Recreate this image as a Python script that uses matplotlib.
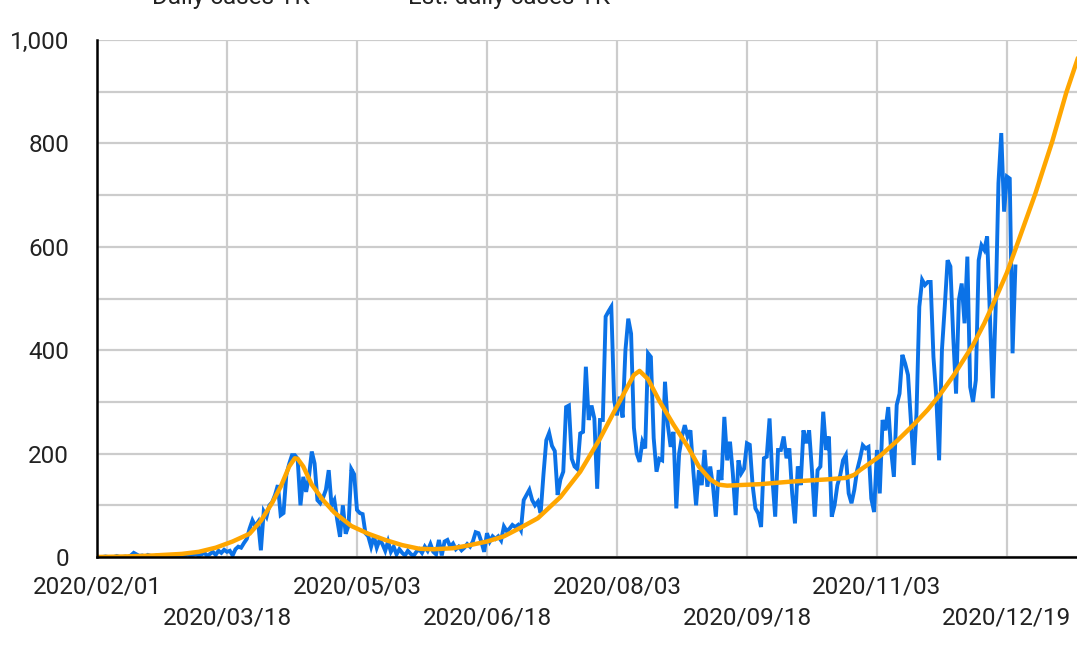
import numpy as np
import pandas as pd
import matplotlib
matplotlib.use("Agg")
import matplotlib.pyplot as plt

plt.rcParams['font.family'] = ['Roboto', 'DejaVu Sans']

START = pd.Timestamp('2020-02-01')

# reported daily cases, one value per day from 2020/02/01
daily_cases = [
    0, 0, 0, 1, 0, 0, 0, 2, 0, 0,
    1, 0, 3, 8, 5, 2, 3, 1, 4, 2,
    0, 3, 1, 2, 0, 3, 1, 2, 4, 1,
    3, 2, 5, 3, 4, 6, 3, 5, 8, 2,
    6, 10, 4, 12, 8, 14, 10, 12, 3, 15,
    20, 18, 27, 35, 55, 71, 60, 68, 13, 88,
    78, 100, 106, 120, 139, 81, 85, 159, 180, 197,
    197, 190, 100, 155, 126, 155, 204, 181, 110, 104,
    115, 130, 168, 100, 110, 72, 39, 100, 45, 60,
    170, 160, 91, 85, 83, 46, 40, 20, 40, 18,
    33, 25, 12, 30, 10, 20, 5, 15, 8, 3,
    12, 6, 2, 10, 15, 8, 20, 12, 25, 10,
    5, 33, 3, 30, 33, 20, 26, 15, 20, 13,
    18, 25, 20, 30, 48, 46, 30, 10, 46, 30,
    40, 35, 40, 32, 59, 50, 55, 62, 58, 62,
    52, 110, 120, 130, 110, 100, 107, 85, 160, 226,
    240, 215, 205, 120, 150, 165, 290, 293, 190, 175,
    170, 239, 242, 368, 265, 293, 268, 132, 265, 265,
    465, 475, 484, 303, 274, 310, 270, 400, 461, 432,
    250, 200, 184, 223, 210, 394, 387, 230, 165, 190,
    187, 339, 255, 213, 242, 94, 200, 233, 255, 233,
    245, 168, 100, 168, 139, 207, 136, 175, 136, 78,
    168, 149, 271, 187, 223, 162, 81, 187, 162, 171,
    220, 217, 139, 94, 84, 58, 191, 194, 268, 152,
    78, 207, 207, 233, 191, 210, 123, 65, 175, 139,
    245, 220, 245, 168, 78, 168, 175, 281, 207, 233,
    78, 100, 139, 158, 187, 197, 123, 104, 130, 168,
    190, 216, 210, 213, 113, 87, 207, 123, 265, 245,
    290, 207, 155, 294, 316, 391, 374, 352, 265, 178,
    278, 484, 536, 526, 532, 532, 387, 310, 187, 400,
    484, 574, 562, 426, 316, 497, 529, 452, 581, 329,
    300, 342, 574, 603, 594, 620, 465, 307, 478, 723,
    820, 668, 736, 732, 394, 562,
]

# estimated curve, read off at these day offsets from 2020/02/01
est_days = [
    0, 10, 20, 30, 36, 42, 48, 54, 58, 62,
    65, 68, 70, 71, 73, 76, 80, 84, 90, 96,
    102, 108, 114, 119, 126, 132, 138, 144, 150, 156,
    164, 171, 178, 183, 188, 190, 192, 195, 199, 204,
    209, 213, 217, 220, 223, 235, 246, 258, 265, 268,
    270, 277, 283, 289, 294, 298, 303, 310, 314, 318,
    322, 325, 332, 338, 343, 347,
]
est_cases = [
    0, 1, 3, 6, 10, 18, 30, 45, 70, 105,
    136, 175, 191, 190, 175, 140, 110, 86, 60, 45,
    33, 23, 16, 15, 17, 23, 30, 40, 57, 75,
    116, 165, 229, 281, 332, 352, 360, 344, 302, 256,
    214, 175, 150, 140, 138, 141, 146, 150, 153, 159,
    168, 195, 224, 256, 285, 312, 350, 410, 452, 500,
    550, 595, 702, 803, 898, 963,
]

tick_dates = ['2020/02/01', '2020/03/18', '2020/05/03', '2020/06/18',
              '2020/08/03', '2020/09/18', '2020/11/03', '2020/12/19']
series_names = ['Daily cases TK', 'Est. daily cases TK']

BLUE = '#0b72e7'
ORANGE = '#ffa600'
GRID = '#cccccc'
TEXT = '#222222'

x_daily = pd.date_range(START, periods=len(daily_cases), freq='D')
x_est = START + pd.to_timedelta(est_days, unit='D')

fig = plt.figure(figsize=(10.77, 6.48), dpi=100)
ax = fig.add_axes([97 / 1077, 1 - 557 / 648, 1 - 97 / 1077, (557 - 40) / 648])

ax.plot(x_daily, daily_cases, color=BLUE, lw=2.8, solid_joinstyle='miter', zorder=3)
ax.plot(x_est, est_cases, color=ORANGE, lw=3.2, zorder=4)

ax.set_xlim(START, START + pd.Timedelta(days=346.8))
ax.set_ylim(0, 1000)

ticks = pd.to_datetime(tick_dates, format='%Y/%m/%d')
ax.set_xticks(ticks[::2])
ax.set_xticklabels(tick_dates[::2])
ax.set_xticks(ticks[1::2], minor=True)
ax.set_xticklabels(tick_dates[1::2], minor=True)
ax.tick_params(axis='x', which='major', length=0, pad=13, labelsize=17.5, labelcolor=TEXT)
ax.tick_params(axis='x', which='minor', length=0, pad=36, labelsize=17.5, labelcolor=TEXT)

ax.set_yticks(range(0, 1001, 200))
ax.set_yticklabels([f'{v:,}' for v in range(0, 1001, 200)])
ax.set_yticks(range(100, 1000, 200), minor=True)
ax.tick_params(axis='y', which='both', length=0, pad=20, labelsize=17.5, labelcolor=TEXT)

ax.grid(True, which='both', color=GRID, lw=1.6, zorder=0)
ax.set_axisbelow(True)

for side in ('top', 'right'):
    ax.spines[side].set_visible(False)
for side in ('left', 'bottom'):
    ax.spines[side].set_color('#000000')
    ax.spines[side].set_linewidth(1.8)
    ax.spines[side].set_zorder(5)

# legend row, cut off by the top edge of the picture as in the source
fig.text(152 / 1077, 1 - 4 / 648, series_names[0], fontsize=17.5, color=TEXT,
         ha='left', va='baseline')
fig.text(408 / 1077, 1 - 4 / 648, series_names[1], fontsize=17.5, color=TEXT,
         ha='left', va='baseline')

fig.savefig('out.png', dpi=100)
